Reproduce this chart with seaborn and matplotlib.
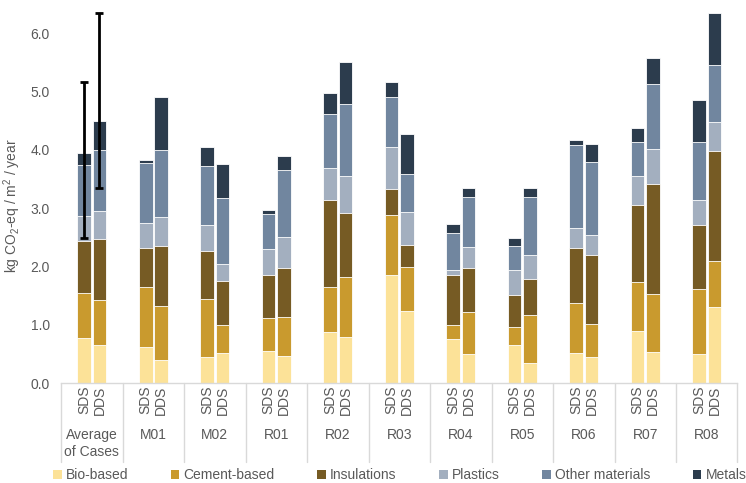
import matplotlib
matplotlib.use("Agg")
import matplotlib.pyplot as plt
import matplotlib.transforms as mtransforms
from matplotlib.patches import Patch
import numpy as np
import pandas as pd
import seaborn as sns

# ---- data -------------------------------------------------------------
cases = ["Average\nof Cases", "M01", "M02", "R01", "R02", "R03",
         "R04", "R05", "R06", "R07", "R08"]
scenarios = ["SDS", "DDS"]
materials = ["Bio-based", "Cement-based", "Insulations", "Plastics",
             "Other materials", "Metals"]
colors = ["#FCE298", "#C99A2E", "#765B24", "#A3AFBF", "#71869F", "#2C3C4D"]

# kg CO2-eq / m2 / year per material group, one value per case
bio_sds = [0.77, 0.62, 0.45, 0.55, 0.87, 1.85, 0.75, 0.66, 0.51, 0.89, 0.49]
bio_dds = [0.66, 0.40, 0.52, 0.46, 0.79, 1.23, 0.49, 0.35, 0.45, 0.53, 1.30]
cement_sds = [0.78, 1.03, 0.99, 0.56, 0.78, 1.03, 0.24, 0.30, 0.86, 0.84, 1.13]
cement_dds = [0.76, 0.92, 0.47, 0.67, 1.03, 0.76, 0.73, 0.82, 0.57, 0.99, 0.80]
insul_sds = [0.89, 0.67, 0.82, 0.74, 1.48, 0.45, 0.86, 0.55, 0.95, 1.33, 1.09]
insul_dds = [1.05, 1.03, 0.76, 0.85, 1.09, 0.38, 0.76, 0.61, 1.17, 1.90, 1.88]
plastics_sds = [0.43, 0.43, 0.45, 0.45, 0.56, 0.72, 0.09, 0.43, 0.34, 0.49, 0.43]
plastics_dds = [0.48, 0.50, 0.29, 0.52, 0.64, 0.57, 0.35, 0.41, 0.35, 0.59, 0.49]
other_sds = [0.86, 1.03, 1.01, 0.59, 0.93, 0.85, 0.63, 0.41, 1.42, 0.58, 0.99]
other_dds = [1.04, 1.14, 1.13, 1.15, 1.23, 0.64, 0.86, 1.00, 1.25, 1.12, 0.99]
metals_sds = [0.22, 0.04, 0.32, 0.08, 0.35, 0.26, 0.16, 0.14, 0.09, 0.24, 0.72]
metals_dds = [0.51, 0.91, 0.58, 0.25, 0.73, 0.69, 0.15, 0.15, 0.31, 0.45, 0.88]

# range (min / max of case totals) shown on the average bars
avg_range_low = [2.49, 3.34]
avg_range_high = [5.16, 6.34]

series = {
    ("Bio-based", "SDS"): bio_sds, ("Bio-based", "DDS"): bio_dds,
    ("Cement-based", "SDS"): cement_sds, ("Cement-based", "DDS"): cement_dds,
    ("Insulations", "SDS"): insul_sds, ("Insulations", "DDS"): insul_dds,
    ("Plastics", "SDS"): plastics_sds, ("Plastics", "DDS"): plastics_dds,
    ("Other materials", "SDS"): other_sds, ("Other materials", "DDS"): other_dds,
    ("Metals", "SDS"): metals_sds, ("Metals", "DDS"): metals_dds,
}

rows = []
for (mat, scen), vals in series.items():
    for case, v in zip(cases, vals):
        rows.append({"case": case, "scenario": scen, "material": mat, "value": v})
df = pd.DataFrame(rows)
df["material"] = pd.Categorical(df["material"], materials, ordered=True)
df = df.sort_values(["case", "scenario", "material"])
df["top"] = df.groupby(["case", "scenario"], observed=True)["value"].cumsum()

# ---- style ------------------------------------------------------------
sns.set_theme(style="white")
plt.rcParams["font.family"] = ["Liberation Sans", "DejaVu Sans"]
plt.rcParams["mathtext.fontset"] = "custom"
plt.rcParams["mathtext.rm"] = "Liberation Sans"
plt.rcParams["mathtext.it"] = "Liberation Sans:italic"
text_col = "#595959"
grid_col = "#D9D9D9"

fig = plt.figure(figsize=(7.46, 4.83), dpi=100)
ax = fig.add_axes([0.0818, 0.207, 0.9068, 0.785])

# stacked bars: draw cumulative heights from the top layer down
for mat, col in reversed(list(zip(materials, colors))):
    sub = df[df["material"] == mat]
    sns.barplot(data=sub, x="case", y="top", hue="scenario",
                order=cases, hue_order=scenarios, palette=[col, col],
                width=0.5, gap=0.1, saturation=1, errorbar=None,
                edgecolor="white", linewidth=0.6, legend=False, ax=ax)

# min/max range on the average bars
avg_tot = df[df["case"] == cases[0]].groupby("scenario")["value"].sum()
avg_tot = [avg_tot[s] for s in scenarios]
ax.errorbar([-0.125, 0.125], avg_tot,
            yerr=[np.subtract(avg_tot, avg_range_low),
                  np.subtract(avg_range_high, avg_tot)],
            fmt="none", ecolor="black", elinewidth=2, capsize=2.8,
            capthick=2, zorder=5)

ax.set_xlim(-0.5, len(cases) - 0.5)
ax.set_ylim(0, 6.5)
ax.set_yticks(np.arange(0, 7, 1))
ax.set_yticklabels([f"{v:.1f}" for v in np.arange(0, 7, 1)])
ax.tick_params(axis="y", length=0, pad=8, labelcolor=text_col, labelsize=10)
ax.tick_params(axis="x", length=0, labelbottom=False)
ax.set_xlabel("")
ax.set_ylabel(r"kg CO$_2$-eq / m$^2$ / year", color=text_col, fontsize=10)
ax.yaxis.set_label_coords(-0.056, 0.469)

for side in ["left", "top", "right"]:
    ax.spines[side].set_visible(False)
ax.spines["bottom"].set_color(grid_col)
ax.spines["bottom"].set_linewidth(1)

# two-level category axis
trans = mtransforms.blended_transform_factory(ax.transData, ax.transAxes)
for xb in np.arange(-0.5, len(cases)):
    ax.plot([xb, xb], [0, -0.208], transform=trans, color=grid_col,
            lw=1, clip_on=False)
for i, case in enumerate(cases):
    for off, scen in zip([-0.125, 0.125], scenarios):
        ax.text(i + off, -0.045, scen, transform=trans, rotation=90,
                ha="center", va="center", fontsize=10, color=text_col)
    ax.text(i, -0.137, case.split("\n")[0], transform=trans,
            ha="center", va="center", fontsize=10, color=text_col)
    if "\n" in case:
        ax.text(i, -0.182, case.split("\n")[1], transform=trans,
                ha="center", va="center", fontsize=10, color=text_col)

handles = [Patch(facecolor=c, edgecolor="none", label=m)
           for m, c in zip(materials, colors)]
leg = fig.legend(handles=handles, loc="center", ncol=6,
                 bbox_to_anchor=(0.536, 0.016), frameon=False,
                 handlelength=0.6, handleheight=0.6, handletextpad=0.3,
                 columnspacing=3.08, fontsize=10, borderaxespad=0)
for t in leg.get_texts():
    t.set_color(text_col)

fig.savefig("out.png", dpi=100)
